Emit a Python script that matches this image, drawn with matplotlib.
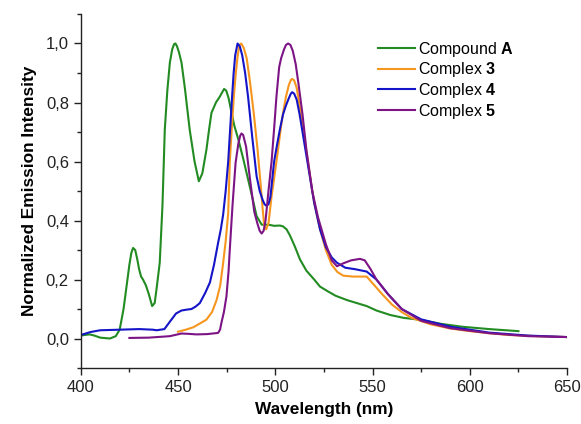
import matplotlib
matplotlib.use("Agg")
import matplotlib.pyplot as plt
from matplotlib.ticker import MultipleLocator

plt.rcParams['font.family'] = ['Liberation Sans', 'DejaVu Sans']
plt.rcParams['mathtext.fontset'] = 'custom'
plt.rcParams['mathtext.rm'] = 'Liberation Sans'
plt.rcParams['mathtext.bf'] = 'Liberation Sans:bold'

# Emission spectra (wavelength in nm, normalized intensity)
wl_A = [400, 402, 404.6, 407, 410, 415, 418, 420, 422, 424, 425, 426, 426.9, 428, 429, 430, 431, 432, 433.5,
        435, 436.7, 438, 439, 440.6, 442, 443.2, 444.5, 445.8, 447, 448, 448.7, 449.5, 450.5, 451.8, 453.5,
        456, 458.5, 460.7, 462.5, 464.6, 466, 467.2, 469.5, 471.5, 473, 473.7, 474.8, 476, 477.5, 479, 481,
        483.5, 486, 488.5, 490.4, 493, 496.3, 499.5, 502.4, 504, 505.8, 507.5, 510, 512.7, 516, 520, 523,
        527, 531, 537, 542, 547, 552, 559, 566, 574, 585, 596, 610, 625]
int_A = [0.01, 0.012, 0.014, 0.01, 0.003, 0.0, 0.008, 0.03, 0.1, 0.2, 0.25, 0.29, 0.307, 0.3, 0.27, 0.235, 0.21,
         0.2, 0.18, 0.15, 0.11, 0.12, 0.17, 0.257, 0.45, 0.708, 0.84, 0.935, 0.98, 0.998, 1.0, 0.99, 0.97, 0.935,
         0.85, 0.708, 0.6, 0.533, 0.56, 0.64, 0.71, 0.765, 0.8, 0.82, 0.838, 0.846, 0.84, 0.815, 0.766, 0.72,
         0.675, 0.61, 0.54, 0.47, 0.415, 0.386, 0.386, 0.382, 0.383, 0.38, 0.37, 0.35, 0.313, 0.268, 0.23, 0.2,
         0.176, 0.16, 0.145, 0.13, 0.12, 0.11, 0.095, 0.08, 0.07, 0.064, 0.05, 0.04, 0.032, 0.025]

wl_3 = [450, 454, 457.8, 461, 464.6, 467.5, 469.8, 471.7, 473.2, 474.5, 475.8, 476.6, 477.7, 478.7, 479.7,
        480.7, 481.6, 482.5, 483.8, 485.3, 487, 489, 490.9, 492.5, 493.5, 494.3, 495.3, 496.5, 498.1, 500.6,
        503, 504, 505.5, 507, 508, 508.7, 509.7, 511, 512.5, 514.5, 517, 520, 523, 526, 529, 532, 535, 540,
        547, 551, 555, 560, 565, 570, 580, 590, 600, 610, 620, 635, 650]
int_3 = [0.023, 0.03, 0.038, 0.05, 0.064, 0.09, 0.13, 0.18, 0.256, 0.33, 0.425, 0.596, 0.72, 0.82, 0.9, 0.96,
         0.995, 1.0, 0.985, 0.95, 0.87, 0.76, 0.64, 0.52, 0.44, 0.385, 0.37, 0.39, 0.482, 0.6, 0.72, 0.765, 0.82,
         0.86, 0.876, 0.88, 0.875, 0.85, 0.79, 0.7, 0.59, 0.46, 0.37, 0.3, 0.25, 0.225, 0.213, 0.21, 0.21, 0.18,
         0.15, 0.115, 0.09, 0.07, 0.048, 0.034, 0.025, 0.018, 0.012, 0.008, 0.005]

wl_4 = [400, 405, 410, 420, 430, 437, 439, 443, 446.6, 449, 451.8, 454.5, 456.9, 459, 461.2, 464, 466.4, 468.5,
        470.6, 472, 473.2, 474.5, 475.8, 476.8, 477.8, 478.6, 479.4, 480.6, 481.8, 483, 484.5, 486, 488.2,
        490.4, 492, 493.5, 494.5, 495.5, 496.5, 497.5, 499.4, 501, 502.4, 504, 505.5, 507, 508, 508.7, 509.7,
        511, 512.5, 514.5, 517, 520, 523, 526, 529, 531.7, 536, 541, 547, 552, 558, 565, 575, 590, 610, 630, 650]
int_4 = [0.012, 0.022, 0.028, 0.03, 0.032, 0.03, 0.028, 0.032, 0.064, 0.085, 0.095, 0.098, 0.1, 0.108, 0.12,
         0.155, 0.19, 0.25, 0.324, 0.37, 0.42, 0.5, 0.6, 0.71, 0.82, 0.9, 0.96, 1.0, 0.99, 0.96, 0.9, 0.82,
         0.68, 0.55, 0.5, 0.47, 0.455, 0.45, 0.455, 0.48, 0.6, 0.66, 0.71, 0.76, 0.79, 0.815, 0.83, 0.835, 0.83,
         0.81, 0.76, 0.68, 0.58, 0.46, 0.37, 0.31, 0.275, 0.257, 0.24, 0.235, 0.227, 0.2, 0.15, 0.1, 0.065, 0.04,
         0.02, 0.01, 0.005]

wl_5 = [425, 435, 445.8, 451.8, 455, 459.5, 465, 470.6, 471.6, 472.3, 473.6, 474.9, 476, 476.6, 478, 479.6,
        481, 482, 482.6, 483.5, 485, 487, 489.2, 490.8, 492, 493, 494, 495, 496.5, 498.1, 499.5, 500.6, 502,
        503, 504.5, 505.5, 506.6, 507.8, 509, 510.5, 512, 514, 516, 519, 522, 526, 529, 531.7, 535, 539,
        543.5, 546, 549, 552, 558, 565, 575, 590, 610, 630, 650]
int_5 = [0.002, 0.003, 0.008, 0.017, 0.016, 0.014, 0.015, 0.019, 0.03, 0.053, 0.09, 0.143, 0.23, 0.3, 0.45, 0.596,
         0.66, 0.688, 0.695, 0.69, 0.65, 0.54, 0.43, 0.39, 0.365, 0.356, 0.365, 0.4, 0.5, 0.6, 0.72, 0.82, 0.92,
         0.95, 0.98, 0.995, 1.0, 0.995, 0.975, 0.93, 0.86, 0.76, 0.64, 0.5, 0.41, 0.32, 0.265, 0.245, 0.255,
         0.265, 0.27, 0.265, 0.235, 0.2, 0.15, 0.1, 0.06, 0.035, 0.018, 0.008, 0.005]

labels = ["Compound $\\mathbf{A}$", "Complex $\\mathbf{3}$", "Complex $\\mathbf{4}$", "Complex $\\mathbf{5}$"]
colors = ["#228b22", "#f7961e", "#1414c8", "#7d1485"]

x_ticks = [400, 450, 500, 550, 600, 650]
y_ticks = [0.0, 0.2, 0.4, 0.6, 0.8, 1.0]
y_tick_labels = ["0,0", "0,2", "0,4", "0,6", "0,8", "1,0"]

fig = plt.figure(figsize=(5.81, 4.24), dpi=100)
ax = fig.add_axes([0.139, 0.132, 0.837, 0.835])

series = [(wl_A, int_A), (wl_3, int_3), (wl_4, int_4), (wl_5, int_5)]
for (x, y), lab, c in zip(series, labels, colors):
    ax.plot(x, y, color=c, lw=1.5, label=lab, solid_joinstyle='round')

ax.set_xlim(400, 650)
ax.set_ylim(-0.1, 1.1)
ax.set_xticks(x_ticks)
ax.set_yticks(y_ticks)
ax.set_yticklabels(y_tick_labels)
ax.xaxis.set_minor_locator(MultipleLocator(25))
ax.yaxis.set_minor_locator(MultipleLocator(0.1))
ax.tick_params(axis='both', which='major', labelsize=12, length=5, width=1, direction='out', colors='#222222')
ax.tick_params(axis='both', which='minor', length=3, width=1, direction='out', colors='#222222')

for side in ['top', 'right']:
    ax.spines[side].set_visible(False)
for side in ['left', 'bottom']:
    ax.spines[side].set_color('#222222')
    ax.spines[side].set_linewidth(1.0)

ax.set_xlabel("Wavelength (nm)", fontsize=12.4, fontweight='bold', labelpad=5)
ax.set_ylabel("Normalized Emission Intensity", fontsize=12.4, fontweight='bold', labelpad=6)

leg = ax.legend(loc='upper left', bbox_to_anchor=(0.599, 0.945), frameon=False, fontsize=11.5,
                handlelength=2.3, handletextpad=0.2, labelspacing=0.1, borderaxespad=0)

fig.savefig("out.png", dpi=100)
